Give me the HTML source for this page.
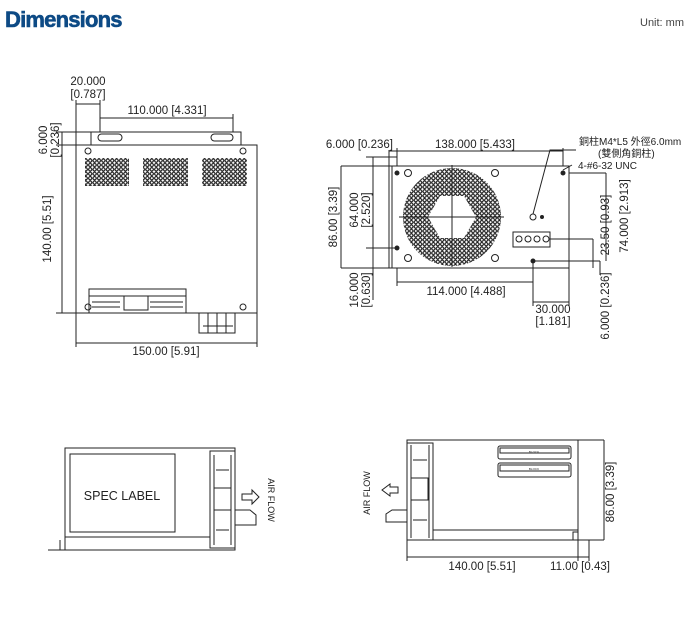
<!DOCTYPE html>
<html><head><meta charset="utf-8"><style>
html,body{margin:0;padding:0;background:#fff;width:700px;height:621px;overflow:hidden}
svg{display:block}
text{font-family:"Liberation Sans","Noto Sans CJK TC",sans-serif;fill:#222;font-size:11.5px}
</style></head><body>
<svg width="700" height="621" viewBox="0 0 700 621" xmlns="http://www.w3.org/2000/svg">
<defs>
<pattern id="dots" width="4.4" height="4.4" patternUnits="userSpaceOnUse"><circle cx="2.2" cy="2.2" r="1.6" fill="none" stroke="#111" stroke-width="1.1"/></pattern>
</defs>
<text x="5" y="27" style="font-size:22px;font-weight:bold;fill:#0d4a85;letter-spacing:-0.8px;stroke:#0d4a85;stroke-width:0.6">Dimensions</text>
<text x="640" y="26" style="font-size:11px;fill:#444">Unit: mm</text>

<g stroke="#222" stroke-width="1" fill="none">
<!-- TOP LEFT -->
<rect x="76" y="145" width="181" height="168"/>
<path d="M91 145V132H241V145"/>
<rect x="98" y="134" width="24" height="7" rx="3.5"/>
<rect x="211" y="134" width="22" height="7" rx="3.5"/>
<rect x="85" y="158" width="44" height="28" fill="url(#dots)" stroke="none"/>
<rect x="143" y="158" width="45" height="28" fill="url(#dots)" stroke="none"/>
<rect x="202" y="158" width="45" height="28" fill="url(#dots)" stroke="none"/>
<circle cx="88" cy="151" r="3"/><circle cx="243" cy="151" r="3"/><circle cx="88" cy="307" r="3"/><circle cx="243" cy="307" r="3"/>
<rect x="89" y="289" width="97" height="24"/>
<path d="M89 296H186M92 302H120M150 302H183M92 307H120M150 307H183"/>
<rect x="124" y="296" width="24" height="14" fill="#fff"/>
<rect x="199" y="313" width="36" height="20"/>
<path d="M208 313V333M217 313V333M226 313V333M203 326H233"/>
<path d="M76 313V347M257 313V347M76 343H257"/>
<path d="M76 100V145M100 100V132M76 104H100"/>
<path d="M100 118H233M233 114V132"/>
<path d="M62 145V313M56 145H76M56 313H76M62 132V145M56 132H91"/>
<!-- TOP RIGHT -->
<rect x="392" y="166" width="177" height="102"/>
<path d="M389 150V268M341 166H392M341 268H392M341 166V268M373 157V268M366 157H397M366 248H397"/>
<circle cx="452" cy="217" r="49" fill="url(#dots)" stroke="none"/>
<polygon points="440,196 464,196 476,217 464,238 440,238 428,217" fill="#fff" stroke="none"/>
<path d="M399 217H504M452 165V267"/>
<circle cx="408" cy="173" r="3.5"/><circle cx="495" cy="173" r="3.5"/><circle cx="408" cy="258" r="3.5"/><circle cx="495" cy="258" r="3.5"/>
<circle cx="397" cy="173" r="2" fill="#222"/><circle cx="563" cy="173" r="2" fill="#222"/><circle cx="397" cy="248" r="2" fill="#222"/><circle cx="533" cy="261" r="2" fill="#222"/>
<circle cx="533" cy="217" r="3"/><circle cx="542" cy="217" r="1.5" fill="#222"/>
<rect x="513" y="232" width="37" height="15"/>
<circle cx="519" cy="239" r="3"/><circle cx="528" cy="239" r="3"/><circle cx="537" cy="239" r="3"/><circle cx="546" cy="239" r="3"/>
<path d="M397 151H563M397 148V166M563 148V166M389 151H397"/>
<path d="M397 268V286M397 282H533M533 261V306M533 302H569M569 268V306"/>
<path d="M373 268V300M550 239H593M533 261H600M569 173H606M593 239V268M606 173V261M600 261V275M533 214L550 150H576M563 170L572 165"/>
<!-- BOTTOM LEFT -->
<rect x="65" y="448" width="170" height="102"/>
<rect x="70" y="454" width="105" height="78"/>
<path d="M65 537H210"/>
<rect x="210" y="451" width="25" height="97"/>
<path d="M214 455V545M231 455V545M216 470H229M216 530H229"/>
<rect x="214" y="488" width="17" height="22" fill="#fff"/>
<path d="M235 510H250L256 515V525H235M48 550H65M60 540V550"/>
<path d="M242 494H252V490L259 497L252 504V500H242Z"/>
<!-- BOTTOM RIGHT -->
<rect x="407" y="440" width="171" height="100"/>
<rect x="407" y="443" width="26" height="97"/>
<path d="M411 445V538M429 445V538M413 460H427M413 520H427M433 530H578"/>
<rect x="411" y="478" width="17" height="22" fill="#fff"/>
<rect x="498" y="446" width="73" height="13" rx="2"/>
<rect x="500" y="448" width="69" height="5"/>
<rect x="498" y="463" width="73" height="14" rx="2"/>
<rect x="500" y="465" width="69" height="6"/>
<path d="M407 510H392L386 514V522H407"/>
<path d="M398 487H390V484L382 490L390 496V493H398Z"/>
<path d="M578 440H604M578 540H604M604 440V540M407 540V561M578 540V561M589 540V561M407 557H589M573 540V532H578"/>
</g>
<!-- labels -->
<text x="88" y="85" text-anchor="middle">20.000</text>
<text x="88" y="98" text-anchor="middle">[0.787]</text>
<text x="167" y="114" text-anchor="middle">110.000 [4.331]</text>
<text transform="translate(51,229) rotate(-90)" text-anchor="middle">140.00 [5.51]</text>
<text transform="translate(47,140) rotate(-90)" text-anchor="middle">6.000</text>
<text transform="translate(59,140) rotate(-90)" text-anchor="middle">[0.236]</text>
<text x="166" y="355" text-anchor="middle">150.00 [5.91]</text>

<text x="393" y="148" text-anchor="end">6.000 [0.236]</text>
<text x="475" y="148" text-anchor="middle">138.000 [5.433]</text>
<text x="579" y="145" style="font-size:10px">銅柱M4*L5 外徑6.0mm</text>
<text x="598" y="157" style="font-size:10px">(雙側角銅柱)</text>
<text x="578" y="169" style="font-size:10px">4-#6-32 UNC</text>
<text transform="translate(337,217) rotate(-90)" text-anchor="middle">86.00 [3.39]</text>
<text transform="translate(358,210) rotate(-90)" text-anchor="middle">64.000</text>
<text transform="translate(370,210) rotate(-90)" text-anchor="middle">[2.520]</text>
<text transform="translate(358,290) rotate(-90)" text-anchor="middle">16.000</text>
<text transform="translate(370,290) rotate(-90)" text-anchor="middle">[0.630]</text>
<text x="466" y="295" text-anchor="middle">114.000 [4.488]</text>
<text x="553" y="313" text-anchor="middle">30.000</text>
<text x="553" y="325" text-anchor="middle">[1.181]</text>
<text transform="translate(609,225) rotate(-90)" text-anchor="middle">23.50 [0.93]</text>
<text transform="translate(628,216) rotate(-90)" text-anchor="middle">74.000 [2.913]</text>
<text transform="translate(609,306) rotate(-90)" text-anchor="middle">6.000 [0.236]</text>

<text x="122" y="500" text-anchor="middle" style="font-size:12.5px">SPEC LABEL</text>
<text transform="translate(268,500) rotate(90)" text-anchor="middle" style="font-size:9px">AIR FLOW</text>
<text transform="translate(370,493) rotate(-90)" text-anchor="middle" style="font-size:9px">AIR FLOW</text>
<text x="534" y="453" text-anchor="middle" style="font-size:3px">BLOCK</text>
<text x="534" y="470" text-anchor="middle" style="font-size:3px">BLOCK</text>
<text x="482" y="570" text-anchor="middle">140.00 [5.51]</text>
<text x="580" y="570" text-anchor="middle">11.00 [0.43]</text>
<text transform="translate(614,492) rotate(-90)" text-anchor="middle">86.00 [3.39]</text>
</svg>
</body></html>
